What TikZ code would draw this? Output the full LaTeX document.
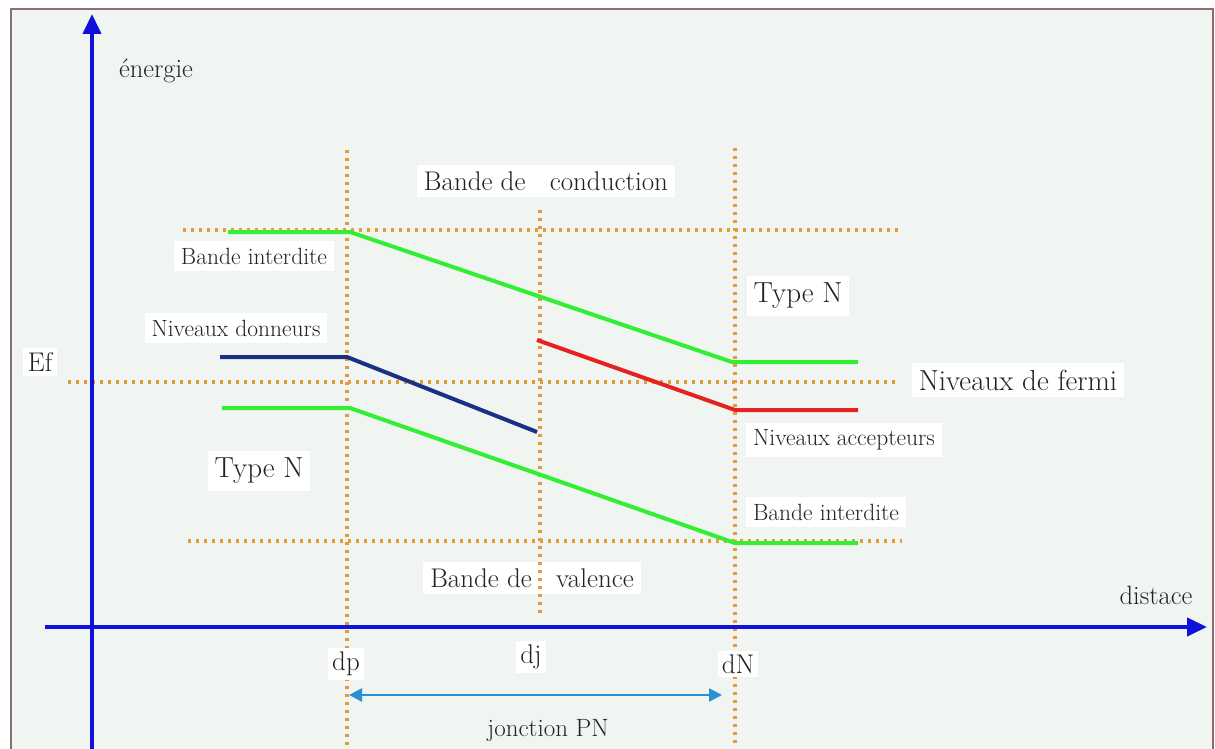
\documentclass[tikz,border=0pt]{standalone}
\usepackage{fontspec}
\usetikzlibrary{arrows.meta}
\definecolor{bgc}{HTML}{F0F5F2}
\definecolor{framec}{HTML}{8C6E6E}
\definecolor{dotc}{HTML}{E39B3C}
\definecolor{greenc}{HTML}{33EE33}
\definecolor{navyc}{HTML}{1C2E85}
\definecolor{redc}{HTML}{E52222}
\definecolor{axisc}{HTML}{1111DD}
\definecolor{jonc}{HTML}{2A90D0}
\definecolor{txtc}{HTML}{222222}
\begin{document}
\begin{tikzpicture}[x=1pt,y=-1pt,
 guide/.style={dotc, line width=3.2pt, dash pattern=on 3pt off 5pt},
 band/.style={line width=4pt, line join=round},
 axisline/.style={axisc, line width=4pt, -{Triangle[length=20pt,width=18pt]}},
 lbl/.style={fill=white, text=txtc, inner sep=7pt, font=\fontsize{27}{30}\selectfont},
 blbl/.style={lbl, font=\fontsize{29}{32}\selectfont},
 slbl/.style={lbl, font=\fontsize{23.5}{26}\selectfont},
 plain/.style={text=txtc, inner sep=2pt, font=\fontsize{26.5}{30}\selectfont},
]
\useasboundingbox (0,0) rectangle (1215,749);
\fill[white] (0,0) rectangle (1215,749);
\draw[framec, line width=2.5pt, fill=bgc] (11,9) rectangle (1213,770);

% label drawn under guides
\node[lbl] (val) at (532,578) {Bande de\hspace{0.6em} valence};

% guide coordinates
\coordinate (dpT) at (347,150); \coordinate (dpB) at (347,745);
\coordinate (djT) at (540,210); \coordinate (djB) at (540,615);
\coordinate (dnT) at (735,148); \coordinate (dnB) at (735,745);
\coordinate (hcL) at (183,230); \coordinate (hcR) at (900,230);
\coordinate (efL) at (68,382);  \coordinate (efR) at (895,382);
\coordinate (hvL) at (188,541); \coordinate (hvR) at (902,541);

\draw[guide] (dpT) -- (dpB);
\draw[guide] (djT) -- (djB);
\draw[guide] (dnT) -- (dnB);
\draw[guide] (hcL) -- (hcR);
\draw[guide] (efL) -- (efR);
\draw[guide] (hvL) -- (hvR);

% band lines
\coordinate (g1a) at (228,232); \coordinate (g1b) at (350,232);
\coordinate (g1c) at (732,362); \coordinate (g1d) at (858,362);
\coordinate (b1a) at (220,357); \coordinate (b1b) at (347,357);
\coordinate (b1c) at (537,432);
\coordinate (r1a) at (537,340); \coordinate (r1b) at (735,410);
\coordinate (r1c) at (858,410);
\coordinate (g2a) at (222,408); \coordinate (g2b) at (350,408);
\coordinate (g2c) at (735,543); \coordinate (g2d) at (858,543);

\draw[band, greenc] (g1a) -- (g1b) -- (g1c) -- (g1d);
\draw[band, navyc] (b1a) -- (b1b) -- (b1c);
\draw[band, redc] (r1a) -- (r1b) -- (r1c);
\draw[band, greenc] (g2a) -- (g2b) -- (g2c) -- (g2d);

% axes
\coordinate (yaB) at (92,749); \coordinate (yaT) at (92,14);
\coordinate (xaL) at (45,627); \coordinate (xaR) at (1207,627);
\draw[axisline] (yaB) -- (yaT);
\draw[axisline] (xaL) -- (xaR);

% junction arrow
\coordinate (jL) at (349,695); \coordinate (jR) at (722,695);
\draw[jonc, line width=2.5pt, {Triangle[length=13pt,width=13pt]}-{Triangle[length=13pt,width=13pt]}] (jL) -- (jR);

% labels
\node[plain] (en) at (156,71) {énergie};
\node[lbl, inner sep=5pt] (ef) at (40,362) {Ef};
\node[slbl] (bi1) at (254,256) {Bande interdite};
\node[slbl] (nd) at (236,328) {Niveaux donneurs};
\node[blbl] (tn1) at (259,471) {Type N};
\node[lbl] (cond) at (546,181) {Bande de\hspace{0.6em} conduction};
\node[blbl] (tn2) at (798,296) {Type N};
\node[blbl] (fermi) at (1018,380) {Niveaux de fermi};
\node[slbl] (acc) at (844,440) {Niveaux accepteurs};
\node[slbl] (bi2) at (826,512) {Bande interdite};
\node[plain] (dist) at (1156,595) {distace};
\node[lbl, inner sep=4pt] (dp) at (346,664) {dp};
\node[lbl, inner sep=4pt] (dj) at (531,657) {dj};
\node[lbl, inner sep=4pt] (dn) at (738,664) {dN};
\node[plain, font=\fontsize{25}{28}\selectfont] (jpn) at (548,730) {jonction PN};
\end{tikzpicture}
\end{document}
